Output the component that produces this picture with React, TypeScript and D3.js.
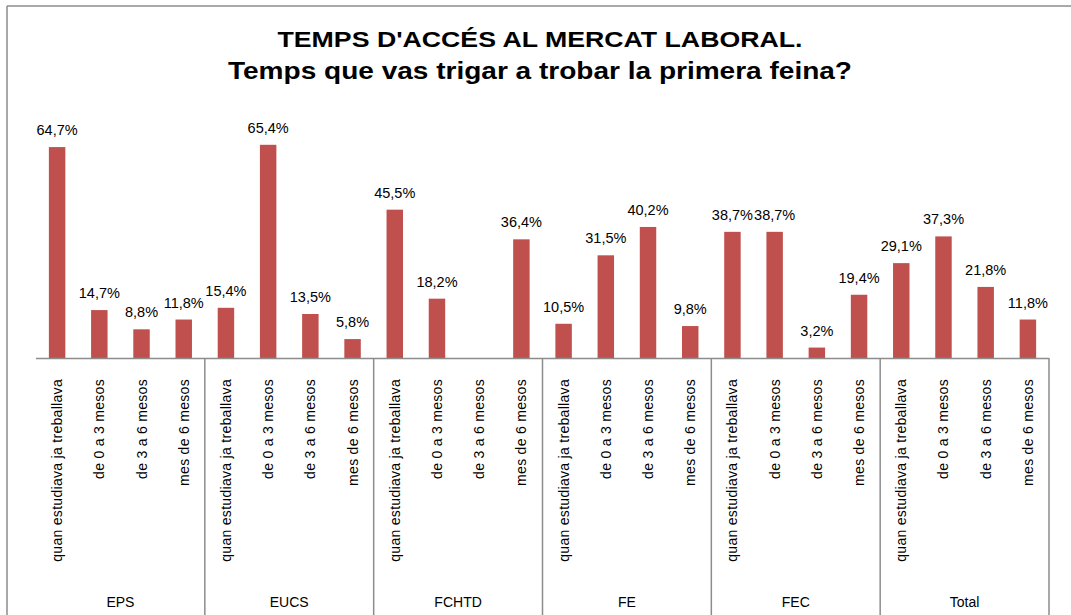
import React from "react";
import * as d3 from "d3";

const groups = ["EPS", "EUCS", "FCHTD", "FE", "FEC", "Total"];
const categories = [
  "quan estudiava ja treballava",
  "de 0 a 3 mesos",
  "de 3 a 6 mesos",
  "mes de 6 mesos",
];
const valuesEPS = [64.7, 14.7, 8.8, 11.8];
const valuesEUCS = [15.4, 65.4, 13.5, 5.8];
const valuesFCHTD = [45.5, 18.2, null, 36.4];
const valuesFE = [10.5, 31.5, 40.2, 9.8];
const valuesFEC = [38.7, 38.7, 3.2, 19.4];
const valuesTotal = [29.1, 37.3, 21.8, 11.8];
const titleLines = [
  "TEMPS D'ACCÉS AL MERCAT LABORAL.",
  "Temps que vas trigar a trobar la primera feina?",
];

const groupValues: (number | null)[][] = [
  valuesEPS,
  valuesEUCS,
  valuesFCHTD,
  valuesFE,
  valuesFEC,
  valuesTotal,
];

const W = 1071;
const H = 615;
const left = 36;
const right = 1049;
const baseY = 358;
const COLOR = "#C0504D";
const FONT = "'Liberation Sans', Arial, sans-serif";

export default function App() {
  const xGroup = d3.scaleBand<string>().domain(groups).range([left, right]).padding(0);
  const xCat = d3
    .scaleBand<string>()
    .domain(categories)
    .range([0, xGroup.bandwidth()])
    .paddingInner(0.61)
    .paddingOuter(0.305);
  const y = d3.scaleLinear().domain([0, 70]).range([baseY, baseY - 70 * 3.26]);
  const fmt = (v: number) => d3.format(".1f")(v).replace(".", ",") + "%";

  return (
    <svg
      width={W}
      height={H}
      style={{ position: "absolute", left: 0, top: 0, background: "#fff" }}
    >
      <rect x={0} y={0} width={W} height={H} fill="#fff" />
      {/* frame */}
      <line x1={7} x2={W} y1={6} y2={6} stroke="#8c8c8c" strokeWidth={1.5} />
      <line x1={7} x2={7} y1={6} y2={H} stroke="#8c8c8c" strokeWidth={1.5} />
      {/* title */}
      <text
        x={540}
        y={47}
        textAnchor="middle"
        fontFamily={FONT}
        fontSize={22}
        fontWeight={700}
        textLength={525}
        lengthAdjust="spacingAndGlyphs"
        fill="#000"
      >
        {titleLines[0]}
      </text>
      <text
        x={540}
        y={79}
        textAnchor="middle"
        fontFamily={FONT}
        fontSize={23}
        fontWeight={700}
        textLength={624}
        lengthAdjust="spacingAndGlyphs"
        fill="#000"
      >
        {titleLines[1]}
      </text>
      {/* bars */}
      {groups.map((g, gi) => (
        <g key={g} transform={`translate(${xGroup(g)},0)`}>
          {categories.map((c, ci) => {
            const v = groupValues[gi][ci];
            const cx = (xCat(c) as number) + xCat.bandwidth() / 2;
            return (
              <g key={c}>
                {v != null && (
                  <>
                    <rect
                      x={xCat(c)}
                      y={y(v)}
                      width={xCat.bandwidth()}
                      height={baseY - y(v)}
                      fill={COLOR}
                    />
                    <text
                      x={cx}
                      y={y(v) - 12}
                      textAnchor="middle"
                      fontFamily={FONT}
                      fontSize={14.5}
                      fill="#000"
                    >
                      {fmt(v)}
                    </text>
                  </>
                )}
                <text
                  transform={`translate(${cx + 5},379) rotate(-90)`}
                  textAnchor="end"
                  fontFamily={FONT}
                  fontSize={14}
                  letterSpacing={0.3}
                  fill="#000"
                >
                  {c}
                </text>
              </g>
            );
          })}
          <text
            x={xGroup.bandwidth() / 2}
            y={607}
            textAnchor="middle"
            fontFamily={FONT}
            fontSize={14}
            fill="#000"
          >
            {g}
          </text>
        </g>
      ))}
      {/* axis line */}
      <line x1={left} x2={right} y1={baseY + 0.5} y2={baseY + 0.5} stroke="#8c8c8c" strokeWidth={1.5} />
      {/* group separators */}
      {groups.map((g) => {
        const sx = (xGroup(g) as number) + xGroup.bandwidth();
        return (
          <line
            key={"sep" + g}
            x1={sx}
            x2={sx}
            y1={baseY}
            y2={H}
            stroke="#8c8c8c"
            strokeWidth={1.5}
          />
        );
      })}
    </svg>
  );
}
